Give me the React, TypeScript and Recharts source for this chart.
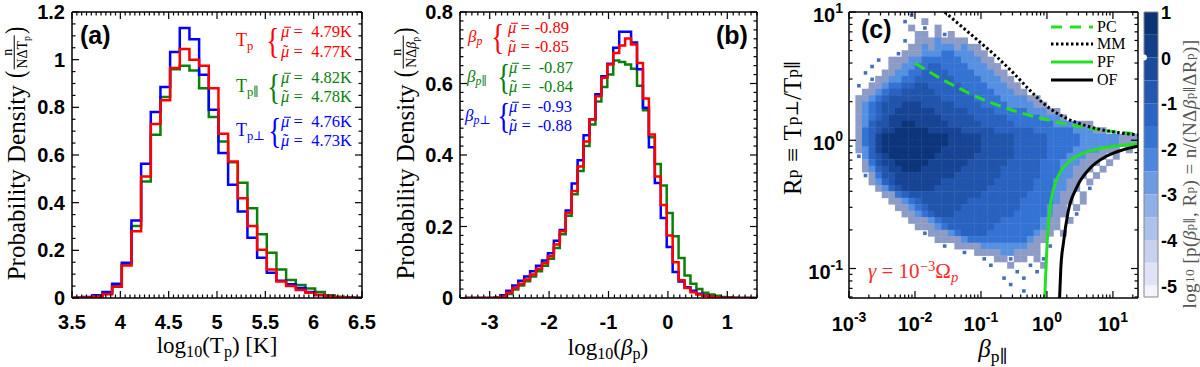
import React from "react";
import { ComposedChart, Line, Scatter, XAxis, YAxis, ReferenceArea } from "recharts";

const SERIF = '"Liberation Serif", "DejaVu Serif", serif';
const SANS = '"Liberation Sans", Arial, sans-serif';
const RED = "#ff0000";
const GREEN = "#0a800a";
const BLUE = "#0000ff";
const LIME = "#22e022";

// ---------- (a) log10(Tp) ----------
const TP_EDGES = [3.515, 3.615, 3.715, 3.815, 3.915, 4.015, 4.115, 4.215, 4.315, 4.415, 4.515, 4.615, 4.715, 4.815, 4.915, 5.015, 5.115, 5.215, 5.315, 5.415, 5.515, 5.615, 5.715, 5.815, 5.915, 6.015, 6.115, 6.215, 6.315, 6.415, 6.515];
const TP_TOTAL = [0.001, 0.002, 0.006, 0.016, 0.047, 0.136, 0.28, 0.51, 0.73, 0.83, 0.965, 1.045, 1.0, 0.975, 0.88, 0.689, 0.573, 0.419, 0.302, 0.202, 0.12, 0.069, 0.05, 0.034, 0.022, 0.013, 0.006, 0.003, 0.001, 0.0005];
const TP_PAR = [0.001, 0.003, 0.007, 0.018, 0.05, 0.14, 0.302, 0.489, 0.685, 0.843, 0.96, 0.974, 0.955, 0.88, 0.759, 0.657, 0.57, 0.484, 0.377, 0.267, 0.19, 0.12, 0.076, 0.055, 0.04, 0.025, 0.012, 0.005, 0.002, 0.001];
const TP_PERP = [0.001, 0.004, 0.012, 0.025, 0.06, 0.148, 0.325, 0.563, 0.78, 0.885, 1.032, 1.133, 1.086, 0.937, 0.79, 0.608, 0.475, 0.363, 0.253, 0.169, 0.106, 0.072, 0.058, 0.042, 0.025, 0.013, 0.006, 0.003, 0.001, 0.0005];
const TP_XTICKS = [3.5, 4, 4.5, 5, 5.5, 6, 6.5];
const TP_YTICKS = [0, 0.2, 0.4, 0.6, 0.8, 1, 1.2];

// ---------- (b) log10(beta_p) ----------
const BP_EDGES = [-3.42, -3.32, -3.22, -3.12, -3.02, -2.92, -2.82, -2.72, -2.62, -2.52, -2.42, -2.32, -2.22, -2.12, -2.02, -1.92, -1.82, -1.72, -1.62, -1.52, -1.42, -1.32, -1.22, -1.12, -1.02, -0.92, -0.82, -0.72, -0.62, -0.52, -0.42, -0.32, -0.22, -0.12, -0.02, 0.08, 0.18, 0.28, 0.38, 0.48, 0.58, 0.68, 0.78, 0.88, 0.98, 1.08, 1.18, 1.28, 1.38, 1.48];
const BP_TOTAL = [0, 0, 0, 0, 0, 0.001, 0.004, 0.015, 0.028, 0.04, 0.052, 0.066, 0.082, 0.097, 0.117, 0.15, 0.187, 0.238, 0.299, 0.368, 0.438, 0.499, 0.564, 0.616, 0.653, 0.685, 0.706, 0.726, 0.709, 0.657, 0.558, 0.457, 0.34, 0.26, 0.175, 0.1, 0.05, 0.028, 0.016, 0.01, 0.006, 0.004, 0.002, 0.001, 0.0005, 0, 0, 0, 0];
const BP_PAR = [0, 0, 0, 0, 0, 0.001, 0.003, 0.011, 0.024, 0.035, 0.047, 0.06, 0.075, 0.09, 0.11, 0.14, 0.178, 0.23, 0.29, 0.355, 0.425, 0.485, 0.55, 0.59, 0.625, 0.664, 0.66, 0.653, 0.641, 0.594, 0.525, 0.45, 0.375, 0.315, 0.238, 0.173, 0.112, 0.063, 0.04, 0.025, 0.015, 0.01, 0.006, 0.003, 0.002, 0.001, 0, 0, 0];
const BP_PERP = [0, 0, 0, 0, 0, 0.001, 0.008, 0.02, 0.035, 0.048, 0.06, 0.075, 0.09, 0.105, 0.125, 0.16, 0.19, 0.245, 0.32, 0.385, 0.455, 0.5, 0.57, 0.62, 0.655, 0.7, 0.745, 0.745, 0.715, 0.64, 0.532, 0.422, 0.322, 0.224, 0.143, 0.073, 0.046, 0.03, 0.02, 0.012, 0.007, 0.004, 0.002, 0.001, 0, 0, 0, 0, 0];
const BP_XTICKS = [-3, -2, -1, 0, 1];
const BP_YTICKS = [0, 0.2, 0.4, 0.6, 0.8];

// ---------- (c) beta_par vs R_p, log10 units ----------
const C_XTICKS = [-3, -2, -1, 0, 1];
const C_YTICKS = [-1, 0, 1];
// one row per 0.05 decade of R (top row starts at 10^1), one column per 0.1 decade of beta (from 10^-3)
const HEAT_ROWS = [
  ".........x",
  "........x..3",
  ".........3.x.3",
  "..........33.3x3",
  "........x.33343333",
  ".........33434443433",
  ".......x3334445544433",
  "....x.3334455555544433",
  "...x..33445566555544433",
  "..x..3344556666555544433",
  "...x334455666666555544433",
  ".x.33455667766666555544433",
  "..3345667777766666555544433",
  ".3345677777777666665555444433",
  ".34567778887777766665555444433",
  ".3456778888887777766665555544433",
  ".34567888888887777766666555554443",
  ".346778899888887777766666555555444433",
  ".35678899999888887777766666655555544433",
  ".3568999999999988888777776666655555444444333",
  ".3568999999999988888777776666655555444444333",
  ".3468999999999888888777776666655554444333.3",
  ".x4678999999988888877777766666555444333.3",
  "..357889999988888877777766666555444333.3",
  "..34678899988888877777766666655544333.3",
  "..x357788888888877777776666665554433.3",
  "...34678888888777777776666665554433.3",
  "....3467888887777777766666665554433.x",
  ".....33567777777777766666665555433.3",
  "......3345677777776666666655555433.3",
  ".......33456777776666666665555433.3",
  "........3345677766666666655555433.x",
  ".........33345666666666555555433.3",
  "..........3334566666665555555433",
  "...........x3334566665555555433.3",
  ".............33334555555555433",
  "..............x.3333444444433.x",
  ".................x.3333443333",
  "....................x.33x33.3x",
  ".....................x..3..x.3",
  ".........................x..x",
  ".......................x..x",
  "........................x",
  "..........................x",
];
const HEAT_COLORS: Record<string, string> = {
  "9": "#0c357b",
  "8": "#174494",
  "7": "#2154ab",
  "6": "#2962c0",
  "5": "#3473d3",
  "4": "#5690e3",
  "3": "#8d9cc6",
  x: "#4470bb",
};
const PC_CURVE = [
  { x: -2, y: 0.6 }, { x: -1.5, y: 0.45 }, { x: -1, y: 0.325 }, { x: -0.5, y: 0.23 },
  { x: 0, y: 0.16 }, { x: 0.5, y: 0.105 }, { x: 1, y: 0.068 }, { x: 1.3, y: 0.052 },
];
const MM_CURVE = [
  { x: -1.55, y: 1.0 }, { x: -1.3, y: 0.89 }, { x: -1.05, y: 0.78 }, { x: -0.75, y: 0.645 },
  { x: -0.5, y: 0.52 }, { x: -0.25, y: 0.385 }, { x: 0, y: 0.265 }, { x: 0.3, y: 0.17 },
  { x: 0.55, y: 0.12 }, { x: 0.8, y: 0.085 }, { x: 1.1, y: 0.058 }, { x: 1.38, y: 0.042 },
];
const PF_CURVE = [
  { x: -0.035, y: -1.25 }, { x: -0.015, y: -1.0 }, { x: 0.005, y: -0.78 }, { x: 0.04, y: -0.55 },
  { x: 0.1, y: -0.38 }, { x: 0.2, y: -0.25 }, { x: 0.35, y: -0.16 }, { x: 0.55, y: -0.1 },
  { x: 0.8, y: -0.065 }, { x: 1.1, y: -0.042 }, { x: 1.4, y: -0.028 },
];
const OF_CURVE = [
  { x: 0.19, y: -1.25 }, { x: 0.21, y: -1.0 }, { x: 0.25, y: -0.8 }, { x: 0.32, y: -0.56 },
  { x: 0.45, y: -0.37 }, { x: 0.65, y: -0.22 }, { x: 0.9, y: -0.125 }, { x: 1.15, y: -0.075 },
  { x: 1.4, y: -0.045 },
];
const CBAR_EDGES = [1, 0.5, 0, -0.5, -1, -1.5, -2, -2.5, -3, -3.5, -4, -4.5, -5, -5.25];
const CBAR_COLORS = ["#0b3474", "#143f88", "#1c4b9c", "#2457b0", "#2b65c3", "#3574d3", "#4c86de", "#6c9be2", "#8fb0e6", "#adc1ea", "#c8d2ef", "#dfe3f5", "#f3f4fb"];
const CBAR_TICKS = [1, 0, -1, -2, -3, -4, -5];

// ---------- layout ----------
const PA = { left: 72, right: 362, top: 12, bottom: 298 };
const PB = { left: 460, right: 757, top: 12, bottom: 298 };
const PCX = { left: 849, right: 1138, top: 12, bottom: 298 };
const CB = { left: 1144, right: 1158, top: 12, bottom: 297 };
const C_XDOM: [number, number] = [-3, 1.38];
const C_YDOM: [number, number] = [-1.23, 1];

const range = (a: number, b: number, s: number) => {
  const out: number[] = [];
  for (let v = a; v <= b + 1e-9; v += s) out.push(Math.round(v * 1000) / 1000);
  return out;
};
const logTicks = (lo: number, hi: number) => {
  const out: number[] = [];
  for (let n = Math.floor(lo); n <= Math.ceil(hi); n++)
    for (let k = 1; k <= 9; k++) {
      const v = n + Math.log10(k);
      if (v >= lo - 1e-9 && v <= hi + 1e-9) out.push(v);
    }
  return out;
};
const steps = (edges: number[], vals: number[]) => {
  const pts = vals.map((v, i) => ({ x: edges[i], y: v }));
  pts.push({ x: edges[edges.length - 1], y: vals[vals.length - 1] });
  return pts;
};

const TICK_FONT: React.CSSProperties = { fontFamily: SANS, fontWeight: 700, fontSize: 20, fill: "#000" };
const AX = { stroke: "#000", strokeWidth: 1.5 };
const isIn = (arr: number[], v: number) => arr.some((m) => Math.abs(m - v) < 1e-6);

type Side = "bottom" | "top" | "left" | "right";
type LabelFn = (v: number, x: number, y: number) => React.ReactNode;

function edgeTick(side: Side, majors: number[], label?: LabelFn, majLen = 7, minLen = 3.5) {
  return (props: any) => {
    const { x, y, payload } = props;
    const v = payload.value as number;
    const major = isIn(majors, v);
    const len = major ? majLen : minLen;
    const d = { bottom: [0, -len], top: [0, len], left: [len, 0], right: [-len, 0] }[side];
    return (
      <g>
        <line x1={x} y1={y} x2={x + d[0]} y2={y + d[1]} stroke="#000" strokeWidth={1.2} />
        {major && label ? label(v, x, y) : null}
      </g>
    );
  };
}

const numX: LabelFn = (v, x, y) => (
  <text x={x} y={y + 31} textAnchor="middle" style={TICK_FONT}>{String(v)}</text>
);
const numY: LabelFn = (v, x, y) => (
  <text x={x - 7} y={y + 7} textAnchor="end" style={TICK_FONT}>{String(v)}</text>
);
const powX: LabelFn = (v, x, y) => (
  <text x={x} y={y + 33} textAnchor="middle" style={TICK_FONT}>
    10<tspan dy={-9} fontSize={14}>{String(v)}</tspan>
  </text>
);
const powY: LabelFn = (v, x, y) => (
  <text x={x - 6} y={y + 10} textAnchor="end" style={TICK_FONT}>
    10<tspan dy={-9} fontSize={14}>{String(v)}</tspan>
  </text>
);

type Box = { left: number; right: number; top: number; bottom: number };

// background layer with hidden axes (same geometry as the framed panel)
function Layer(props: { box: Box; xDomain: [number, number]; yDomain: [number, number]; children: React.ReactNode }) {
  const { box } = props;
  return (
    <div style={{ position: "absolute", left: 0, top: 0 }}>
      <ComposedChart width={1200} height={367} margin={{ left: box.left, right: 1200 - box.right, top: box.top, bottom: 367 - box.bottom }}>
        <XAxis xAxisId="b" dataKey="x" type="number" domain={props.xDomain} allowDataOverflow hide />
        <YAxis yAxisId="l" dataKey="y" type="number" domain={props.yDomain} allowDataOverflow hide />
        {props.children}
      </ComposedChart>
    </div>
  );
}

function Panel(props: {
  box: Box;
  xDomain: [number, number];
  yDomain: [number, number];
  xTicks: number[];
  yTicks: number[];
  xMajor: number[];
  yMajor: number[];
  xLabel: LabelFn;
  yLabel: LabelFn;
  children: React.ReactNode;
}) {
  const { box, xDomain, yDomain, xTicks, yTicks, xMajor, yMajor } = props;
  const common = { type: "number" as const, allowDataOverflow: true, interval: 0 as const, tickSize: 0, tickMargin: 0, tickLine: false, axisLine: AX };
  return (
    <div style={{ position: "absolute", left: 0, top: 0 }}>
      <ComposedChart
        width={1200}
        height={367}
        margin={{ left: box.left - 1, right: 1200 - box.right - 1, top: box.top - 1, bottom: 367 - box.bottom - 1 }}
      >
        <XAxis xAxisId="b" dataKey="x" domain={xDomain} ticks={xTicks} height={1} tick={edgeTick("bottom", xMajor, props.xLabel)} {...common} />
        <XAxis xAxisId="t" dataKey="x" orientation="top" domain={xDomain} ticks={xTicks} height={1} tick={edgeTick("top", xMajor)} {...common} />
        <YAxis yAxisId="l" dataKey="y" domain={yDomain} ticks={yTicks} width={1} tick={edgeTick("left", yMajor, props.yLabel)} {...common} />
        <YAxis yAxisId="r" dataKey="y" orientation="right" domain={yDomain} ticks={yTicks} width={1} tick={edgeTick("right", yMajor)} {...common} />
        {props.children}
      </ComposedChart>
    </div>
  );
}

const T = ({ x, y, a = "start", children, style }: any) => (
  <div
    style={{
      position: "absolute",
      left: x,
      top: y,
      transform: `translate(${a === "start" ? "0" : a === "middle" ? "-50%" : "-100%"}, -50%)`,
      whiteSpace: "nowrap",
      lineHeight: 1,
      fontFamily: SERIF,
      ...style,
    }}
  >
    {children}
  </div>
);
const R = ({ x, y, children, style }: any) => (
  <div
    style={{
      position: "absolute",
      left: x,
      top: y,
      transform: "translate(-50%, -50%) rotate(-90deg)",
      whiteSpace: "nowrap",
      lineHeight: 1,
      fontFamily: SERIF,
      display: "flex",
      alignItems: "center",
      ...style,
    }}
  >
    {children}
  </div>
);
const Sub = ({ children }: any) => <span style={{ fontSize: "0.7em", verticalAlign: "-0.3em" }}>{children}</span>;
const Sup = ({ children }: any) => <span style={{ fontSize: "0.7em", verticalAlign: "0.45em" }}>{children}</span>;
const Frac = ({ num, den, size }: any) => (
  <span style={{ display: "inline-flex", flexDirection: "column", alignItems: "center", fontSize: size, lineHeight: 0.95 }}>
    <span>{num}</span>
    <span style={{ borderTop: "1px solid #000", padding: "1px 1px 0" }}>{den}</span>
  </span>
);
const Paren = ({ c }: any) => (
  <span style={{ display: "inline-block", fontSize: 22, transform: "scaleY(1.2)", margin: "0 1px" }}>{c}</span>
);
const Brace = ({ x, y, color, size = 36 }: any) => (
  <T x={x} y={y} style={{ color, fontSize: size, lineHeight: 0.8, transform: "translate(0,-52%) scaleX(0.75)" }}>{"{"}</T>
);
// mu with bar (mean) or tilde (median)
const Mu = ({ tilde }: { tilde?: boolean }) => (
  <span style={{ position: "relative", display: "inline-block", fontStyle: "italic" }}>
    μ
    {tilde ? (
      <span style={{ position: "absolute", left: "0.12em", top: "-0.08em", fontStyle: "normal", fontSize: "0.95em" }}>˜</span>
    ) : (
      <span style={{ position: "absolute", left: "0.16em", top: "0.2em", width: "0.42em", borderTop: "1px solid currentColor" }} />
    )}
  </span>
);

function Stat(props: { label: React.ReactNode; color: string; lx: number; bx: number; ex: number; nx: number; y1: number; y2: number; mean: string; median: string; lsize?: number }) {
  const { color, y1, y2 } = props;
  const mid = (y1 + y2) / 2;
  const f = { color, fontSize: 16.5 };
  return (
    <>
      <T x={props.lx} y={mid} style={{ ...f, fontSize: props.lsize ?? 18 }}>{props.label}</T>
      <Brace x={props.bx} y={mid} color={color} />
      <T x={props.ex} y={y1} style={f}><Mu /> =</T>
      <T x={props.nx} y={y1} a="end" style={f}>{props.mean}</T>
      <T x={props.ex} y={y2} style={f}><Mu tilde /> =</T>
      <T x={props.nx} y={y2} a="end" style={f}>{props.median}</T>
    </>
  );
}

const heatCells = HEAT_ROWS.flatMap((row, r) =>
  row.split("").flatMap((ch, c) => (ch === "." ? [] : [{ x: -3 + (c + 0.5) * 0.1, y: 1 - (r + 0.5) * 0.05, level: ch }]))
);
const CELL_W = ((PCX.right - PCX.left) * 0.1) / (C_XDOM[1] - C_XDOM[0]);
const CELL_H = ((PCX.bottom - PCX.top) * 0.05) / (C_YDOM[1] - C_YDOM[0]);

const HeatCell = (p: any) => {
  const k = p.payload.level === "x" ? 0.55 : 1;
  const w = CELL_W * k + (k === 1 ? 0.4 : 0);
  const h = CELL_H * k + (k === 1 ? 0.4 : 0);
  return <rect x={p.cx - w / 2} y={p.cy - h / 2} width={w} height={h} fill={HEAT_COLORS[p.payload.level]} />;
};

const ser = { xAxisId: "b", yAxisId: "l", dot: false, isAnimationActive: false } as const;

export default function App() {
  return (
    <div style={{ position: "absolute", left: 0, top: 0, width: 1200, height: 367, background: "#fff", overflow: "hidden" }}>
      {/* (a) */}
      <Panel box={PA} xDomain={[3.5, 6.5]} yDomain={[0, 1.2]} xTicks={range(3.5, 6.5, 0.05)} yTicks={range(0, 1.2, 0.05)} xMajor={TP_XTICKS} yMajor={TP_YTICKS} xLabel={numX} yLabel={numY}>
        <Line {...ser} data={steps(TP_EDGES, TP_PAR)} dataKey="y" type="stepAfter" stroke={GREEN} strokeWidth={2.5} />
        <Line {...ser} data={steps(TP_EDGES, TP_PERP)} dataKey="y" type="stepAfter" stroke={BLUE} strokeWidth={2.5} />
        <Line {...ser} data={steps(TP_EDGES, TP_TOTAL)} dataKey="y" type="stepAfter" stroke={RED} strokeWidth={2.5} />
      </Panel>
      {/* (b) */}
      <Panel box={PB} xDomain={[-3.5, 1.5]} yDomain={[0, 0.8]} xTicks={range(-3.5, 1.5, 0.1)} yTicks={range(0, 0.8, 0.025)} xMajor={BP_XTICKS} yMajor={BP_YTICKS} xLabel={numX} yLabel={numY}>
        <Line {...ser} data={steps(BP_EDGES, BP_PAR)} dataKey="y" type="stepAfter" stroke={GREEN} strokeWidth={2.5} />
        <Line {...ser} data={steps(BP_EDGES, BP_PERP)} dataKey="y" type="stepAfter" stroke={BLUE} strokeWidth={2.5} />
        <Line {...ser} data={steps(BP_EDGES, BP_TOTAL)} dataKey="y" type="stepAfter" stroke={RED} strokeWidth={2.5} />
      </Panel>
      {/* (c) heat map underneath, curves and frame on top */}
      <Layer box={PCX} xDomain={C_XDOM} yDomain={C_YDOM}>
        <Scatter xAxisId="b" yAxisId="l" data={heatCells} shape={HeatCell} isAnimationActive={false} />
      </Layer>
      <Panel box={PCX} xDomain={C_XDOM} yDomain={C_YDOM} xTicks={logTicks(C_XDOM[0], C_XDOM[1])} yTicks={logTicks(C_YDOM[0], C_YDOM[1])} xMajor={C_XTICKS} yMajor={C_YTICKS} xLabel={powX} yLabel={powY}>
        <Line {...ser} data={PC_CURVE} dataKey="y" type="monotone" stroke={LIME} strokeWidth={3} strokeDasharray="11 6" />
        <Line {...ser} data={MM_CURVE} dataKey="y" type="monotone" stroke="#000" strokeWidth={3} strokeDasharray="2.5 2.5" />
        <Line {...ser} data={PF_CURVE} dataKey="y" type="monotone" stroke={LIME} strokeWidth={3} />
        <Line {...ser} data={OF_CURVE} dataKey="y" type="monotone" stroke="#000" strokeWidth={3} />
      </Panel>
      {/* colorbar */}
      <div style={{ position: "absolute", left: 0, top: 0 }}>
        <ComposedChart width={1200} height={367} margin={{ left: CB.left, right: 1200 - CB.right - 1, top: CB.top, bottom: 367 - CB.bottom }}>
          <XAxis dataKey="x" type="number" domain={[0, 1]} hide />
          <YAxis
            dataKey="y"
            type="number"
            orientation="right"
            domain={[CBAR_EDGES[CBAR_EDGES.length - 1], CBAR_EDGES[0]]}
            ticks={CBAR_TICKS}
            interval={0}
            width={1}
            tickSize={0}
            tickMargin={0}
            tickLine={false}
            axisLine={false}
            tick={(p: any) => (
              <text x={p.x + 3} y={p.y + 7} textAnchor="start" style={{ ...TICK_FONT, fontSize: 18 }}>{String(p.payload.value)}</text>
            )}
          />
          {CBAR_COLORS.map((c, i) => (
            <ReferenceArea key={i} y1={CBAR_EDGES[i + 1]} y2={CBAR_EDGES[i]} fill={c} fillOpacity={1} stroke="none" />
          ))}
          <ReferenceArea y1={CBAR_EDGES[CBAR_EDGES.length - 1]} y2={CBAR_EDGES[0]} fill="none" stroke="#888" strokeWidth={1} />
          <Line data={[{ x: 0, y: 0 }]} dataKey="y" stroke="none" dot={false} isAnimationActive={false} />
        </ComposedChart>
      </div>

      {/* panel letters */}
      <T x={80} y={35} style={{ fontFamily: SANS, fontWeight: 700, fontSize: 25 }}>(a)</T>
      <T x={716} y={35} style={{ fontFamily: SANS, fontWeight: 700, fontSize: 25 }}>(b)</T>
      <T x={861} y={29} style={{ fontFamily: SANS, fontWeight: 700, fontSize: 25 }}>(c)</T>

      {/* (a) stats */}
      <Stat label={<>T<Sub>p</Sub></>} color={RED} lx={236} bx={264} ex={281} nx={352} y1={32} y2={52} mean="4.79K" median="4.77K" />
      <Stat label={<>T<Sub>p∥</Sub></>} color={GREEN} lx={236} bx={265} ex={281} nx={352} y1={78} y2={97} mean="4.82K" median="4.78K" />
      <Stat label={<>T<Sub>p⊥</Sub></>} color={BLUE} lx={236} bx={266} ex={281} nx={352} y1={122} y2={141} mean="4.76K" median="4.73K" />

      {/* (b) stats */}
      <Stat label={<><i>β</i><Sub><i>p</i></Sub></>} color={RED} lx={468} bx={489} ex={508} nx={569} y1={28} y2={47} mean="-0.89" median="-0.85" lsize={17} />
      <Stat label={<><i>β</i><Sub><i>p</i>∥</Sub></>} color={GREEN} lx={467} bx={495} ex={509} nx={573} y1={68} y2={87} mean="-0.87" median="-0.84" lsize={17} />
      <Stat label={<><i>β</i><Sub><i>p</i>⊥</Sub></>} color={BLUE} lx={465} bx={495} ex={509} nx={572} y1={107} y2={126} mean="-0.93" median="-0.88" lsize={17} />

      {/* axis titles */}
      <R x={16} y={153} style={{ fontSize: 25 }}>
        Probability Density&nbsp;<Paren c="(" />
        <Frac size={14} num="n" den={<>NΔT<Sub>p</Sub></>} />
        <Paren c=")" />
      </R>
      <R x={405} y={153} style={{ fontSize: 25 }}>
        Probability Density&nbsp;<Paren c="(" />
        <Frac size={14} num="n" den={<>NΔ<i>β</i><Sub>p</Sub></>} />
        <Paren c=")" />
      </R>
      <T x={217} y={347} a="middle" style={{ fontSize: 23 }}>
        log<Sub>10</Sub>(T<Sub>p</Sub>) [K]
      </T>
      <T x={608} y={349} a="middle" style={{ fontSize: 23 }}>
        log<Sub>10</Sub>(<i>β</i><Sub>p</Sub>)
      </T>
      <T x={993} y={351} a="middle" style={{ fontSize: 25 }}>
        <i>β</i><Sub>p∥</Sub>
      </T>
      <R x={792} y={128} style={{ fontSize: 25 }}>
        R<Sub>p</Sub>
        <span style={{ margin: "0 0.3em" }}>≡</span>
        T<Sub>p⊥</Sub>/T<Sub>p∥</Sub>
      </R>
      <R x={1189} y={174} style={{ fontSize: 19, color: "#555", letterSpacing: 0.4 }}>
        log<Sub>10</Sub>&nbsp;[p(<i>β</i><Sub>p∥</Sub>, R<Sub>p</Sub>) = n/(NΔ<i>β</i><Sub>p∥</Sub>ΔR<Sub>p</Sub>)]
      </R>
      <T x={868} y={272} style={{ fontSize: 21, color: "#ff2a2a" }}>
        <i>γ</i> = 10<Sup>−3</Sup>Ω<Sub><i>p</i></Sub>
      </T>

      {/* (c) legend */}
      <svg style={{ position: "absolute", left: 0, top: 0 }} width={1200} height={367}>
        <line x1={1051} x2={1093} y1={27} y2={27} stroke={LIME} strokeWidth={3} strokeDasharray="11 8" />
        <line x1={1051} x2={1093} y1={44} y2={44} stroke="#000" strokeWidth={3} strokeDasharray="2.5 2.5" />
        <line x1={1051} x2={1093} y1={62} y2={62} stroke={LIME} strokeWidth={3} />
        <line x1={1051} x2={1093} y1={80} y2={80} stroke="#000" strokeWidth={3} />
      </svg>
      <T x={1097} y={27} style={{ fontSize: 16 }}>PC</T>
      <T x={1097} y={44} style={{ fontSize: 16 }}>MM</T>
      <T x={1097} y={62} style={{ fontSize: 16 }}>PF</T>
      <T x={1097} y={80} style={{ fontSize: 16 }}>OF</T>
    </div>
  );
}
